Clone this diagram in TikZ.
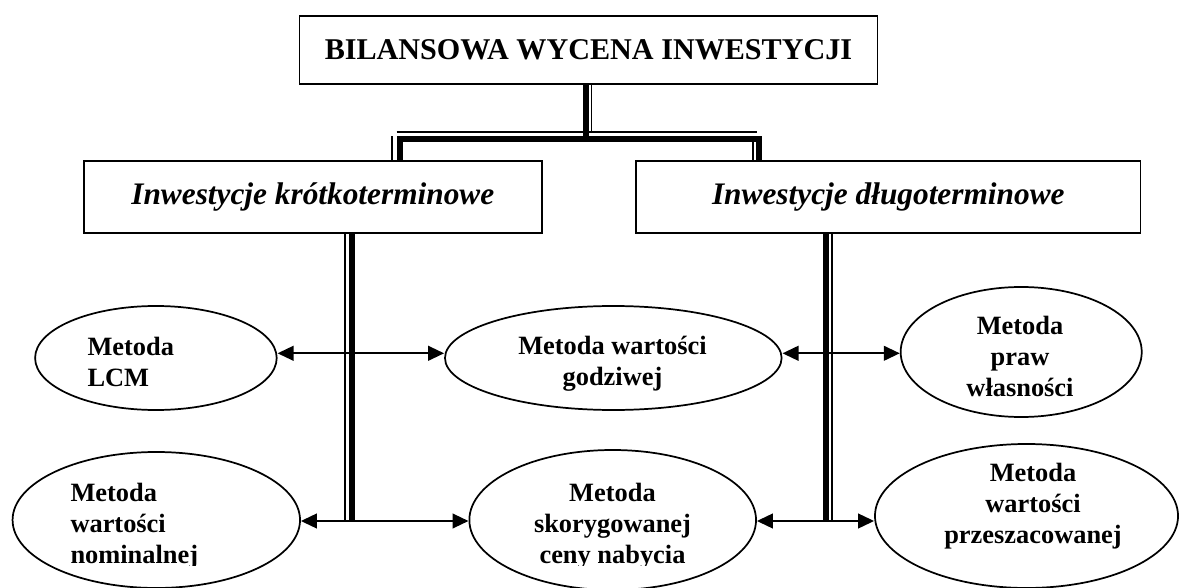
\documentclass[tikz,border=0pt]{standalone}
\usepackage{fontspec}
\setmainfont{Liberation Serif}
\usetikzlibrary{arrows.meta,shapes.geometric}

\tikzset{every picture/.style={line width=0.75pt}}

\begin{document}
\begin{tikzpicture}[x=0.75pt,y=0.75pt,yscale=-1,xscale=1,
  box/.style={draw,line width=1.3pt,inner sep=0pt},
  oval/.style={draw,ellipse,line width=1.3pt,inner sep=0pt},
  mtxt/.style={inner sep=0pt,font=\fontsize{19.8}{23.25}\selectfont\bfseries},
  barthick/.style={line width=4.6pt},
  barthin/.style={line width=1.3pt},
  biarrow/.style={line width=1.6pt,{Triangle[length=12pt,width=11pt]}-{Triangle[length=12pt,width=11pt]}}]
        \useasboundingbox (0,0) rectangle (1179,588);

        %Shape: Rectangle [title]
        \node[box,minimum width=433.5pt,minimum height=51pt,font=\fontsize{22.6}{26}\selectfont\bfseries] (bilans) at (588.5,50) {BILANSOWA WYCENA INWESTYCJI};
        %Shape: Rectangle [short / long term]
        \node[box,minimum width=343.3pt,minimum height=54pt,font=\fontsize{23.5}{28}\selectfont\bfseries\itshape] (krotko) at (312.8,197) {Inwestycje krótkoterminowe};
        \node[box,minimum width=378.4pt,minimum height=54pt,font=\fontsize{23.5}{28}\selectfont\bfseries\itshape] (dlugo) at (888.3,197) {Inwestycje długoterminowe};

        %Shape: Ellipse
        \node[oval,minimum width=181.2pt,minimum height=78pt] (lcm) at (155.9,358) {};
        \node[oval,minimum width=252.5pt,minimum height=78pt] (godz) at (613.3,358) {};
        \node[oval,minimum width=180.8pt,minimum height=97.5pt] (praw) at (1021.2,352) {};
        \node[oval,minimum width=215.6pt,minimum height=102pt] (nomin) at (156.3,520) {};
        \node[oval,minimum width=215pt,minimum height=105pt] (skor) at (612.7,520) {};
        \node[oval,minimum width=227.3pt,minimum height=108pt] (przesz) at (1026.5,516) {};

        %Text in ellipses
        \node[mtxt,align=left,anchor=west] (lcm-t) at (87,361.5) {Metoda\\LCM};
        \node[mtxt,align=center] (godz-t) at (612.5,363.9) {Metoda wartości\\godziwej};
        \node[mtxt,align=center] (praw-t) at (1020,356) {Metoda\\praw\\własności};
        \node[mtxt,align=center] (przesz-t) at (1033,505.9) {Metoda\\wartości\\przeszacowanej};
        \begin{scope}
        \clip (0,0) rectangle (1179,565);
        \node[mtxt,align=left,anchor=west] (nomin-t) at (70,526.3) {Metoda\\wartości\\nominalnej};
        \node[mtxt,align=center] (skor-t) at (612.5,526) {Metoda\\skorygowanej\\ceny nabycia};
        \end{scope}

        %Elbow connector (thick-thin)
        \coordinate (jt) at (586,139);
        \coordinate (jl) at (399.7,139);
        \coordinate (jr) at (759,139);
        \draw[barthick] (bilans.south -| jt) -- (jt);
        \draw[barthick] (krotko.north -| jl) -- (jl) -- (jr) -- (dlugo.north -| jr);
        \coordinate (kt) at (591.5,132.3);
        \coordinate (kl) at (396.7,132.3);
        \coordinate (kr) at (756.7,132.3);
        \coordinate (dl) at (392.3,136.5);
        \coordinate (dr) at (752.7,136.5);
        \draw[barthin] (bilans.south -| kt) -- (kt);
        \draw[barthin] (kl) -- (kr);
        \draw[barthin] (dl) -- (krotko.north -| dl);
        \draw[barthin] (dr) -- (dlugo.north -| dr);

        %Straight Lines [trunks]
        \coordinate (lt) at (351.7,521);
        \coordinate (ltt) at (345,521);
        \coordinate (rt) at (826,521);
        \coordinate (rtt) at (832.3,521);
        \draw[barthin] (krotko.south -| ltt) -- (ltt);
        \draw[barthick] (krotko.south -| lt) -- (lt);
        \draw[barthick] (dlugo.south -| rt) -- (rt);
        \draw[barthin] (dlugo.south -| rtt) -- (rtt);

        %Straight Lines [arrows]
        \coordinate (la) at (351.7,353.3);
        \coordinate (ra) at (826,353.3);
        \draw[biarrow] (la -| lcm.east) -- (la -| godz.west);
        \draw[biarrow] (ra -| godz.east) -- (ra -| praw.west);
        \draw[biarrow] (lt -| nomin.east) -- (lt -| skor.west);
        \draw[biarrow] (rt -| skor.east) -- (rt -| przesz.west);

\end{tikzpicture}
\end{document}
